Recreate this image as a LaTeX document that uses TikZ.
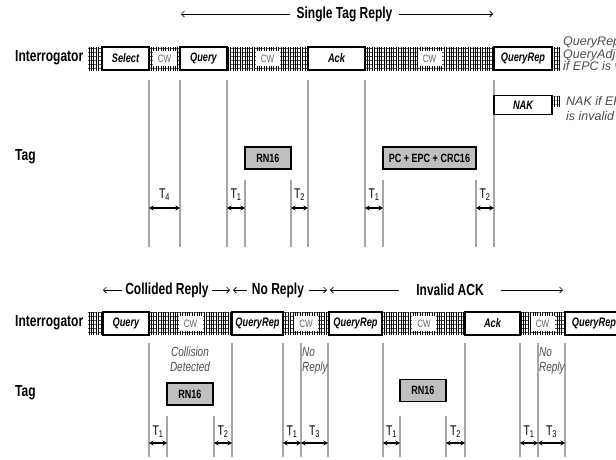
\documentclass[tikz,border=0pt]{standalone}
\usepackage{fontspec}
\setmainfont[FakeStretch=0.75]{Liberation Sans}
\newfontfamily\sidefont{Liberation Sans}
\usetikzlibrary{arrows.meta, patterns.meta}

\begin{document}
\begin{tikzpicture}[
        x=1pt, y=-1pt,
        lane/.style={anchor=west, inner sep=0pt, font=\fontsize{16}{16}\selectfont\bfseries},
        phase/.style={inner ysep=0pt, font=\fontsize{16}{16}\selectfont\bfseries},
        span/.style={-{Straight Barb[length=3pt, width=6pt]}, line width=0.7pt},
        cmd/.style={rectangle, draw=black, line width=1.6pt, fill=white, minimum height=23pt, inner sep=0pt, font=\fontsize{12.3}{12}\selectfont\bfseries\itshape},
        reply/.style={rectangle, draw=black, line width=1.6pt, fill=gray!50, minimum height=22pt, inner sep=0pt, font=\fontsize{12}{12}\selectfont\bfseries},
        cw/.style={rectangle, fill=white, minimum width=24pt, minimum height=15pt, inner sep=0pt, text=black!60, font=\fontsize{10.7}{10}\selectfont},
        note/.style={inner sep=0pt, align=left, text=black!70, font=\fontsize{13.3}{15}\selectfont\itshape},
        sidenote/.style={note, anchor=west, font=\sidefont\fontsize{12.5}{11}\selectfont\itshape},
        tick/.style={draw=gray!70, line width=1.4pt},
        gap/.style={{Stealth[length=4.5pt, width=5pt]}-{Stealth[length=4.5pt, width=5pt]}, line width=1.3pt},
        tlabel/.style={inner sep=0pt, font=\fontsize{14}{14}\selectfont},
        hatch/.style={pattern={Lines[angle=90, distance=2.4pt, line width=0.4pt]}},
        hatchrow/.style={pattern={Lines[angle=0, distance=4pt, line width=0.4pt]}}
    ]
        \useasboundingbox (0,0) rectangle (616,459);
        \clip (0,0) rectangle (616,459);

        % single tag reply
        \node[lane] (reader1) at (15,58) {Interrogator};
        \node[lane] (tag1) at (15,157) {Tag};
        \fill[hatch] (88,47) rectangle (560,70);
        \fill[hatchrow] (88,47) rectangle (560,70);
        \fill[hatch] (552,96) rectangle (560,106);
        \fill[hatchrow] (552,96) rectangle (560,106);
        \foreach \x in {149,180,227,308,365,494} \draw[tick] (\x,80) -- (\x,247);
        \foreach \x in {245,291,383,476} \draw[tick] (\x,180) -- (\x,247);

        \node[cmd, minimum width=47pt] (select) at (125.5,58.5) {Select};
        \node[cmd, minimum width=47pt] (query) at (203.5,58.5) {Query};
        \node[cmd, minimum width=57pt] (ack) at (336.5,58.5) {Ack};
        \node[cmd, minimum width=58pt] (qrep) at (523,58.5) {QueryRep};
        \node[cmd, minimum width=58pt, minimum height=19pt] (nak) at (523,105) {NAK};
        \node[cw] (cw1) at (164.5,58.5) {CW};
        \node[cw] (cw2) at (267.5,58.5) {CW};
        \node[cw] (cw3) at (429.5,58.5) {CW};
        \node[reply, minimum width=46pt] (rn16) at (268,158) {RN16};
        \node[reply, minimum width=93pt] (epc) at (429.5,158) {PC + EPC + CRC16};
        \node[sidenote] (valid) at (563,54) {QueryRep or\\QueryAdjust\\if EPC is valid};
        \node[sidenote, font=\sidefont\fontsize{12.5}{15}\selectfont\itshape] (invalid) at (566,108.5) {NAK if EPC\\is invalid};

        \node[phase, inner xsep=6pt] (single) at (344.5,14) {Single Tag Reply};
        \coordinate (single l) at (181,14);
        \coordinate (single r) at (493,14);
        \draw[span] (single.west) -- (single l);
        \draw[span] (single.east) -- (single r);

        \foreach \a/\b/\t in {149/180/4, 227/245/1, 291/308/2, 365/383/1, 476/494/2}
            \draw[gap] (\a,208) -- node[tlabel, above=7pt] (ta\a) {T\textsubscript{\t}} (\b,208);

        % collided reply, no reply, invalid ack
        \node[lane] (reader2) at (15,323) {Interrogator};
        \node[lane] (tag2) at (15,393) {Tag};
        \fill[hatch] (88,312) rectangle (616,335);
        \fill[hatchrow] (88,312) rectangle (616,335);
        \foreach \x in {149,232,283,301,328,383,465,520,538,565} \draw[tick] (\x,343) -- (\x,457);
        \foreach \x in {167,214,400,446} \draw[tick] (\x,416) -- (\x,457);

        \node[cmd, minimum width=46pt] (query2) at (126,323.5) {Query};
        \node[cmd, minimum width=51pt] (qrep2) at (257.5,323.5) {QueryRep};
        \node[cmd, minimum width=53pt] (qrep3) at (355.5,323.5) {QueryRep};
        \node[cmd, minimum width=55pt] (ack2) at (492.5,323.5) {Ack};
        \node[cmd, minimum width=58pt] (qrep4) at (594,323.5) {QueryRep};
        \node[cw] (cw4) at (190.5,323.5) {CW};
        \node[cw] (cw5) at (306,323.5) {CW};
        \node[cw] (cw6) at (424,323.5) {CW};
        \node[cw] (cw7) at (542.5,323.5) {CW};
        \node[reply, minimum width=46pt] (rn16b) at (190,394) {RN16};
        \node[reply, minimum width=46pt] (rn16c) at (423,390.5) {RN16};
        \node[note, align=center] (collision) at (190,359.5) {Collision\\Detected};
        \node[note, anchor=north west] (silent1) at (302,347) {No\\Reply};
        \node[note, anchor=north west] (silent2) at (539,347) {No\\Reply};

        \node[phase, inner xsep=3pt] (collided) at (167,290) {Collided Reply};
        \node[phase, inner xsep=5pt] (noreply) at (278,290) {No Reply};
        \node[phase, inner xsep=17pt] (badack) at (450,290) {Invalid ACK};
        \coordinate (collided l) at (103,290);
        \coordinate (collided r) at (230,290);
        \coordinate (noreply l) at (233,290);
        \coordinate (noreply r) at (327,290);
        \coordinate (badack l) at (330,290);
        \coordinate (badack r) at (563,290);
        \draw[span] (collided.west) -- (collided l);
        \draw[span] (collided.east) -- (collided r);
        \draw[span] (noreply.west) -- (noreply l);
        \draw[span] (noreply.east) -- (noreply r);
        \draw[span] (badack.west) -- (badack l);
        \draw[span] (badack.east) -- (badack r);

        \foreach \a/\b/\t in {149/167/1, 214/232/2, 283/301/1, 301/328/3, 383/400/1, 446/465/2, 520/538/1, 538/565/3}
            \draw[gap] (\a,443) -- node[tlabel, above=5pt] (tb\a) {T\textsubscript{\t}} (\b,443);
\end{tikzpicture}
\end{document}
